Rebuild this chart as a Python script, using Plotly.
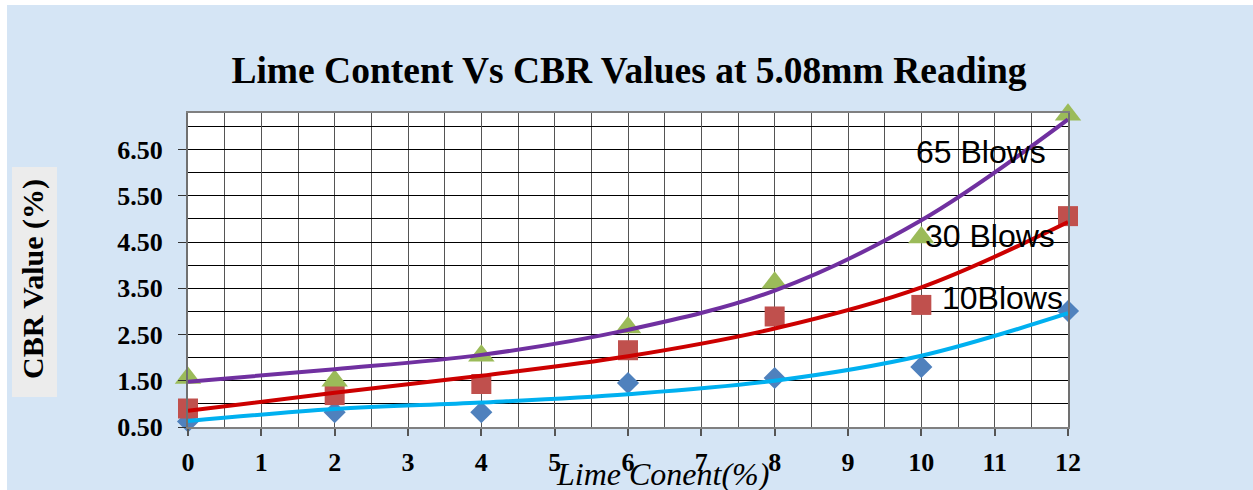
import plotly.graph_objects as go

# ---------------- data ----------------
lime = [0, 2, 4, 6, 8, 10, 12]
cbr_10 = [0.62, 0.82, 0.82, 1.45, 1.56, 1.80, 3.01]
cbr_30 = [0.90, 1.19, 1.43, 2.16, 2.89, 3.14, 5.06]
cbr_65 = [1.56, 1.50, 2.04, 2.65, 3.62, 4.60, 7.25]

trend_10 = [0.63, 0.89, 1.03, 1.21, 1.50, 2.04, 2.96]
trend_30 = [0.85, 1.24, 1.61, 2.03, 2.63, 3.52, 4.93]
trend_65 = [1.48, 1.75, 2.06, 2.60, 3.45, 4.97, 7.15]

x_tick_vals = list(range(0, 13))
y_tick_vals = [0.5, 1.5, 2.5, 3.5, 4.5, 5.5, 6.5]
y_tick_text = ["0.50", "1.50", "2.50", "3.50", "4.50", "5.50", "6.50"]

series_labels = ["10Blows", "30 Blows", "65 Blows"]
label_x = [10.25, 10.02, 9.90]
label_y = [3.29, 4.63, 6.44]

# ---------------- figure ----------------
W, H = 1253, 490
L, R, T, B = 188, 185, 113, 63
pw, ph = W - L - R, H - T - B

def px_x(p):
    return (p - L) / pw

def px_y(p):
    return (H - B - p) / ph

SERIF = "Liberation Serif, Times New Roman, serif"
SANS = "Liberation Sans, Arial, sans-serif"

fig = go.Figure()

# markers (drawn first, beneath trend lines)
fig.add_trace(go.Scatter(x=lime, y=cbr_10, mode="markers", cliponaxis=False,
                         marker=dict(symbol="diamond", size=17, color="#4F81BD"),
                         showlegend=False))
fig.add_trace(go.Scatter(x=lime, y=cbr_30, mode="markers", cliponaxis=False,
                         marker=dict(symbol="square", size=20, color="#C0504D"),
                         showlegend=False))
fig.add_trace(go.Scatter(x=lime, y=cbr_65, mode="markers", cliponaxis=False,
                         marker=dict(symbol="triangle-up", size=23, color="#9BBB59"),
                         showlegend=False))

# trend lines
for tr, col in [(trend_10, "#00B0F0"), (trend_30, "#CC0000"), (trend_65, "#7030A0")]:
    fig.add_trace(go.Scatter(x=lime, y=tr, mode="lines", cliponaxis=False,
                             line=dict(color=col, width=4, shape="spline", smoothing=1.0),
                             showlegend=False))

annotations = []
for txt, lx, ly in zip(series_labels, label_x, label_y):
    annotations.append(dict(x=lx, y=ly, xref="x", yref="y", text=txt, showarrow=False,
                            xanchor="left", yanchor="middle",
                            font=dict(family=SANS, size=32, color="black")))

# y axis title (box drawn as a shape)
annotations.append(dict(x=px_x(33), y=px_y(279), xref="paper", yref="paper",
                        text="<b>CBR Value (%)</b>", textangle=-90, showarrow=False,
                        xanchor="center", yanchor="middle",
                        font=dict(family=SERIF, size=30, color="black")))
# x axis title
annotations.append(dict(x=px_x(662), y=px_y(474), xref="paper", yref="paper",
                        text="<i>Lime Conent(%)</i>", showarrow=False,
                        xanchor="center", yanchor="middle",
                        font=dict(family=SERIF, size=32, color="black")))

shapes = [
    dict(type="rect", xref="paper", yref="paper", x0=px_x(0), x1=px_x(W), y0=px_y(0), y1=px_y(5),
         fillcolor="white", line=dict(width=0), layer="below"),
    dict(type="rect", xref="paper", yref="paper", x0=px_x(0), x1=px_x(7), y0=px_y(H), y1=px_y(0),
         fillcolor="white", line=dict(width=0), layer="below"),
    dict(type="rect", xref="paper", yref="paper", x0=px_x(12), x1=px_x(57), y0=px_y(397), y1=px_y(167),
         fillcolor="#ECECEC", line=dict(width=0), layer="below"),
]

fig.update_layout(
    width=W, height=H,
    margin=dict(l=L, r=R, t=T, b=B, pad=0),
    paper_bgcolor="#D5E5F5",
    plot_bgcolor="white",
    title=dict(text="<b>Lime Content Vs CBR Values at 5.08mm Reading</b>",
               x=629 / W, xanchor="center", y=1 - 70 / H, yanchor="middle",
               font=dict(family=SERIF, size=37.5, color="black")),
    annotations=annotations,
    shapes=shapes,
    showlegend=False,
)

fig.update_xaxes(range=[0, 12], tickvals=x_tick_vals, ticktext=[str(v) for v in x_tick_vals],
                 ticks="outside", ticklen=7, tickcolor="#555", tickwidth=1.5,
                 showgrid=True, gridcolor="#555", gridwidth=1.3,
                 minor=dict(dtick=0.5, tick0=0, showgrid=True, gridcolor="#555", gridwidth=1.3, ticks=""),
                 showline=True, linecolor="#808080", linewidth=2, mirror=True,
                 zeroline=False, ticklabelstandoff=4,
                 tickfont=dict(family=SERIF, size=26, color="black", weight="bold"))
fig.update_yaxes(range=[0.5, 7.29], tickvals=y_tick_vals, ticktext=y_tick_text,
                 ticks="outside", ticklen=8, tickcolor="#333", tickwidth=1.3,
                 showgrid=True, gridcolor="black", gridwidth=1,
                 minor=dict(dtick=0.5, tick0=0.5, showgrid=True, gridcolor="black", gridwidth=1, ticks=""),
                 showline=True, linecolor="#707070", linewidth=2, mirror=True,
                 zeroline=False, ticklabelstandoff=10,
                 tickfont=dict(family=SERIF, size=26, color="black", weight="bold"))

fig.write_html("out.html")
